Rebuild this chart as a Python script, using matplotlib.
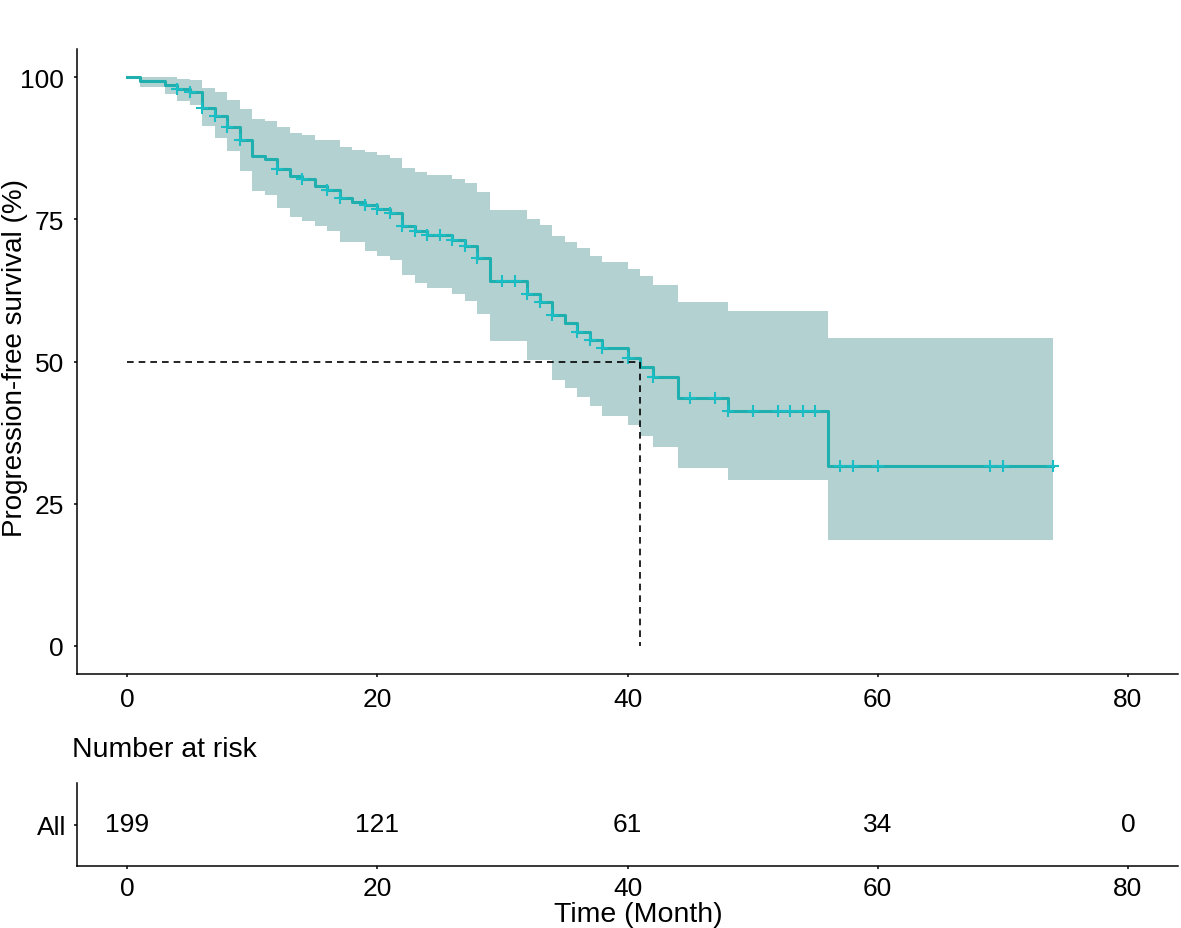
import numpy as np
import matplotlib
matplotlib.use("Agg")
import matplotlib.pyplot as plt

plt.rcParams['font.family'] = ['Liberation Sans', 'DejaVu Sans']

# Kaplan-Meier steps (month, % surviving)
times = [0, 1, 3, 4, 5, 6, 7, 8, 9, 10, 11, 12, 13, 14, 15, 16, 17, 18, 19, 20, 21,
         22, 23, 24, 26, 27, 28, 29, 32, 33, 34, 35, 36, 37, 38, 40, 41, 42, 44, 48, 56]
surv = [100, 99.4, 98.7, 97.9, 97.5, 94.7, 93.2, 91.2, 88.9, 86.2, 85.6, 83.8, 82.7,
        82.2, 80.9, 80.1, 78.8, 78.1, 77.5, 76.9, 76.2, 73.8, 73.0, 72.3, 71.4, 70.3,
        68.3, 64.1, 61.9, 60.5, 58.1, 56.8, 55.2, 53.8, 52.3, 50.6, 49.0, 47.2, 43.6,
        41.3, 31.6]
upper = [100, 100, 100, 99.8, 99.5, 98.1, 97.4, 96.0, 94.4, 92.6, 92.3, 91.2, 90.3,
         89.8, 88.9, 88.9, 87.8, 87.2, 86.8, 86.3, 85.8, 84.0, 83.4, 82.9, 82.1, 81.5,
         79.9, 76.7, 75.0, 74.1, 72.1, 71.0, 70.0, 68.6, 67.6, 66.3, 65.0, 63.5, 60.5,
         58.9, 54.1]
lower = [100, 98.4, 97.1, 95.9, 95.1, 91.5, 89.4, 87.0, 83.5, 80.0, 79.3, 77.1, 75.5,
         74.8, 73.8, 72.9, 71.0, 71.0, 69.4, 68.6, 67.8, 65.3, 63.8, 63.0, 61.8, 60.7,
         58.4, 53.6, 50.2, 50.2, 46.8, 45.3, 43.8, 42.1, 40.4, 38.9, 36.9, 35.0, 31.3,
         29.2, 18.6]
end_time = 74
censored = [4, 5, 6, 7, 8, 9, 12, 14, 16, 17, 19, 20, 21, 22, 23, 24, 25, 26, 27, 28,
            30, 31, 32, 33, 34, 36, 37, 38, 40, 42, 45, 47, 48, 50, 52, 53, 54, 55, 57,
            58, 60, 69, 70, 74]

risk_times = [0, 20, 40, 60, 80]
risk_counts = [199, 121, 61, 34, 0]

line_col = '#20AFAF'
band_col = '#B3D1D0'
cens_col = '#1BBEC4'
fs = 19      # tick labels / table numbers
fs_title = 20.5

t = np.array(times + [end_time], dtype=float)
s = np.array(surv + [surv[-1]])
up = np.array(upper + [upper[-1]])
lo = np.array(lower + [lower[-1]])

fig = plt.figure(figsize=(11.81, 9.29), dpi=100)
W, H = 1181, 929
ax = fig.add_axes([77 / W, 1 - 675 / H, 1101 / W, 625 / H])

ax.fill_between(t, lo, up, step='post', color=band_col, linewidth=0)
ax.step(t, s, where='post', color=line_col, linewidth=2.2)

idx = np.searchsorted(times, censored, side='right') - 1
ax.plot(censored, np.array(surv)[idx], linestyle='none', marker='+',
        markersize=9, markeredgewidth=1.5, color=cens_col)

# median survival
med = times[int(np.argmax(np.array(surv) <= 50))]
ax.plot([0, med], [50, 50], color='black', linestyle=(0, (4, 3)), linewidth=1.2)
ax.plot([med, med], [50, 0], color='black', linestyle=(0, (4, 3)), linewidth=1.2)

ax.set_xlim(-4, 84)
ax.set_ylim(-5, 105)
ax.set_xticks([0, 20, 40, 60, 80])
ax.set_yticks([0, 25, 50, 75, 100])
ax.spines['top'].set_visible(False)
ax.spines['right'].set_visible(False)
for sp in ['left', 'bottom']:
    ax.spines[sp].set_linewidth(1.1)
ax.tick_params(labelsize=fs, length=2.5, width=1.1, pad=7, colors='black')
ax.set_ylabel('Progression-free survival (%)', fontsize=20)
ax.yaxis.set_label_coords(-0.0445, 0.507)

# risk table
rax = fig.add_axes([77 / W, 1 - 867 / H, 1101 / W, 83 / H])
for x, n in zip(risk_times, risk_counts):
    rax.text(x, 0, str(n), ha='center', va='center', fontsize=fs)
rax.set_xlim(-4, 84)
rax.set_ylim(-0.6, 0.6)
rax.set_xticks([0, 20, 40, 60, 80])
rax.set_yticks([0])
rax.set_yticklabels(['All'])
rax.spines['top'].set_visible(False)
rax.spines['right'].set_visible(False)
for sp in ['left', 'bottom']:
    rax.spines[sp].set_linewidth(1.1)
rax.tick_params(labelsize=fs, length=2.5, width=1.1, pad=5, colors='black')
rax.set_xlabel('Time (Month)', fontsize=fs_title)
rax.xaxis.set_label_coords(0.5095, -0.42)
fig.text(72 / W, 1 - 750 / H, 'Number at risk', fontsize=fs_title, ha='left', va='center')

fig.savefig('out.png', dpi=100)
